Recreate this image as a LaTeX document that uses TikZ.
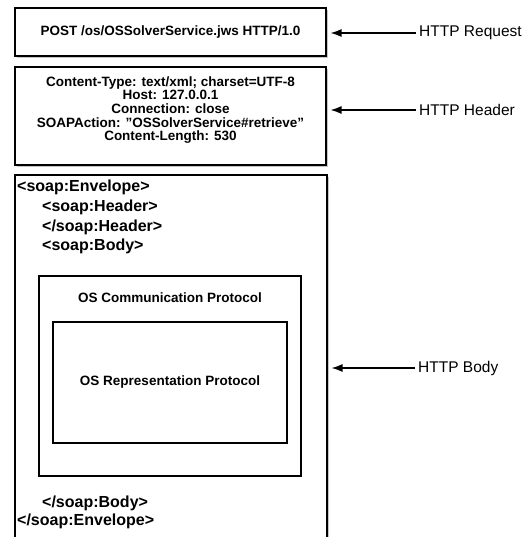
\documentclass[tikz,border=0pt]{standalone}
\usepackage{fontspec}
\setmainfont{Liberation Sans}
\usetikzlibrary{arrows.meta,shadows}

\begin{document}
\begin{tikzpicture}[x=1pt,y=-1pt,
    msgbox/.style={draw,line width=1.1pt,fill=white,
      drop shadow={shadow xshift=1.5pt,shadow yshift=-2pt,opacity=0.45}},
    protbox/.style={draw,line width=1.1pt},
    boxtext/.style={font=\fontsize{13.5}{13.7}\selectfont\bfseries,align=center},
    soaptext/.style={font=\fontsize{16}{18}\selectfont\bfseries,anchor=west,inner sep=0pt},
    partlabel/.style={font=\fontsize{15.5}{17}\selectfont,anchor=west,inner sep=0pt},
    pointer/.style={line width=1.4pt,-{Latex[length=11pt,width=8pt]},shorten >=4pt}]
  \useasboundingbox (0,0) rectangle (525,537);
  % the three parts of the message
  \node[msgbox,minimum width=311pt,minimum height=48pt] (request) at (170.5,32) {};
  \node[boxtext] at (request) {POST /os/OSSolverService.jws HTTP/1.0};
  \node[msgbox,minimum width=311pt,minimum height=98pt] (header) at (170.5,116) {};
  \node[boxtext] at (170.5,110) {Content-Type: text/xml; charset=UTF-8\\Host: 127.0.0.1\\
    Connection: close\\SOAPAction: "OSSolverService\#retrieve"\\Content-Length: 530};
  \node[msgbox,minimum width=312pt,minimum height=380pt] (body) at (171,365) {};
  % soap envelope
  \node[soaptext] (envopen) at (17,187) {<soap:Envelope>};
  \node[soaptext] (hdropen) at (42,207) {<soap:Header>};
  \node[soaptext] (hdrclose) at (42,227) {</soap:Header>};
  \node[soaptext] (bodyopen) at (42,246) {<soap:Body>};
  \node[soaptext] (bodyclose) at (42,503) {</soap:Body>};
  \node[soaptext] (envclose) at (17,521) {</soap:Envelope>};
  % the two protocols
  \node[protbox,minimum width=262pt,minimum height=200pt] (comm) at (170,376) {};
  \node[boxtext] at (170,298) {OS Communication Protocol};
  \node[protbox,minimum width=234pt,minimum height=121pt] (repr) at (170,382.5) {};
  \node[boxtext] at (repr) {OS Representation Protocol};
  % labels on the right
  \node[partlabel] (reqlabel) at (419,33) {HTTP Request};
  \node[partlabel] (hdrlabel) at (419,110) {HTTP Header};
  \node[partlabel] (bodylabel) at (418,368) {HTTP Body};
  \draw[pointer] ([xshift=-3pt]reqlabel.west) -- (reqlabel.west -| request.east);
  \draw[pointer] ([xshift=-3pt]hdrlabel.west) -- (hdrlabel.west -| header.east);
  \draw[pointer] ([xshift=-3pt]bodylabel.west) -- (bodylabel.west -| body.east);
\end{tikzpicture}
\end{document}
